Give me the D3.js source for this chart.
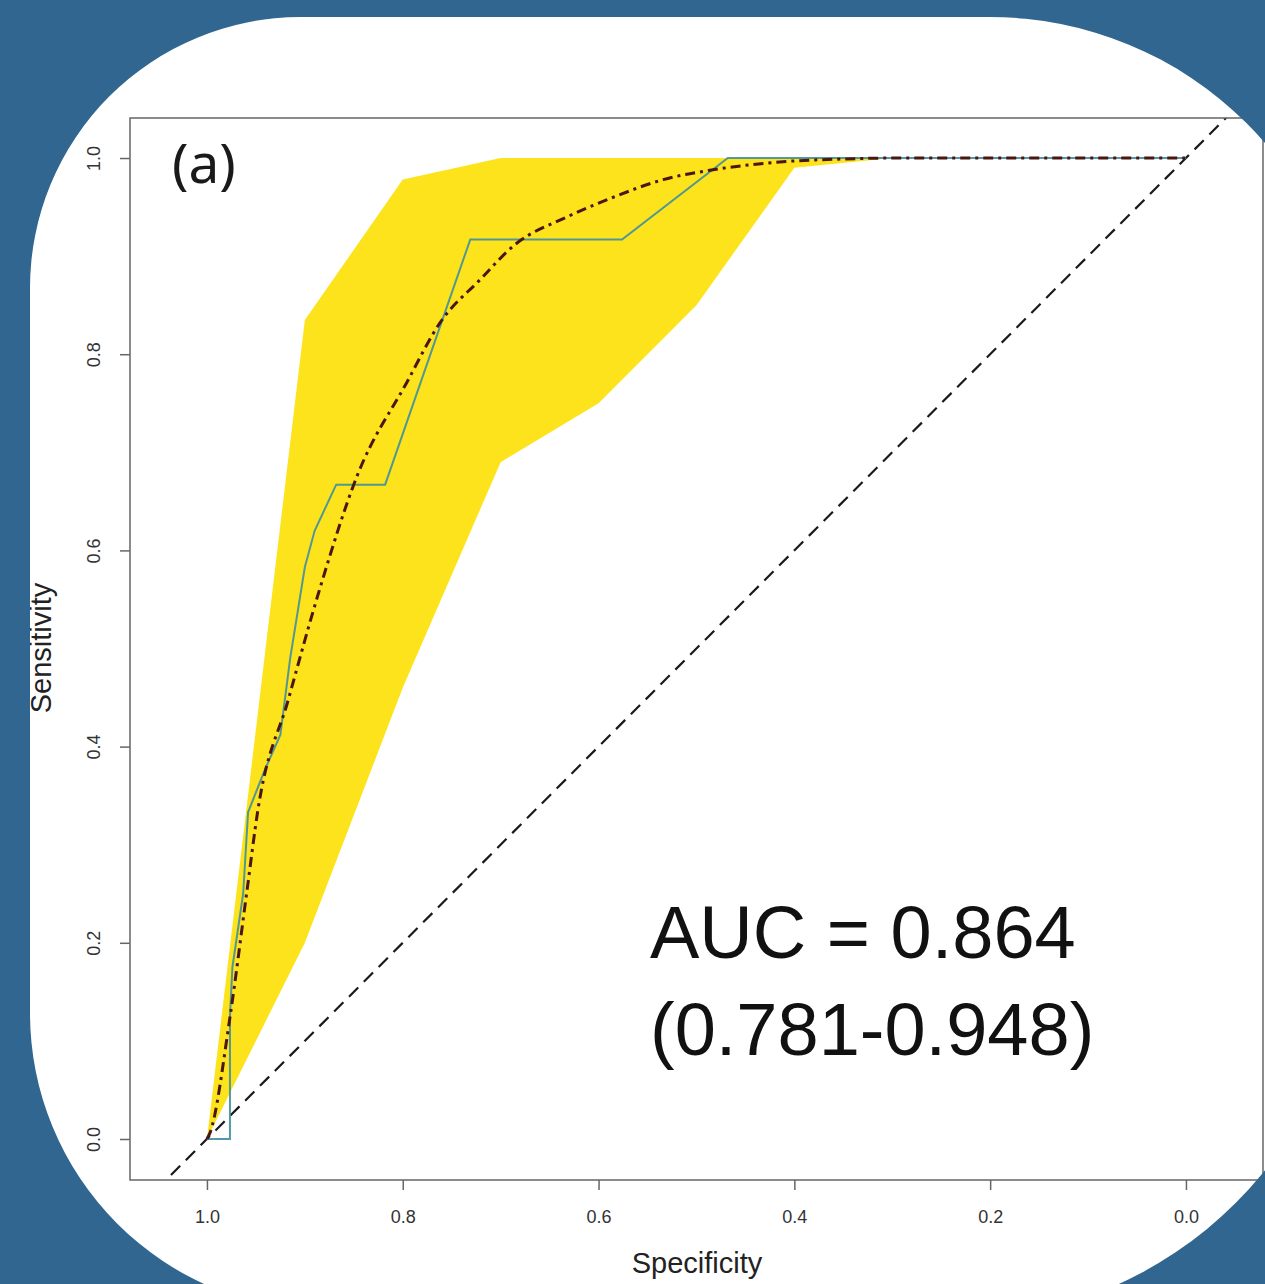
<!DOCTYPE html>
<html><head><meta charset="utf-8">
<script src="https://cdn.jsdelivr.net/npm/d3@7"></script>
<style>html,body{margin:0;padding:0;background:#ffffff;} svg{display:block}</style>
</head><body><svg id="c" width="1265" height="1284"></svg>
<script>
// ---- data ----
const specTicks = [1.0, 0.8, 0.6, 0.4, 0.2, 0.0];
const sensTicks = [0.0, 0.2, 0.4, 0.6, 0.8, 1.0];
const tickFmt = d3.format(".1f");

// confidence band of sensitivity at given specificities
const ciSpec  = [1.0, 0.9, 0.8, 0.7, 0.6, 0.5, 0.4, 0.3, 0.2, 0.1, 0.0];
const ciUpper = [0.0, 0.835, 0.978, 1.0, 1.0, 1.0, 1.0, 1.0, 1.0, 1.0, 1.0];
const ciLower = [0.0, 0.20, 0.46, 0.69, 0.75, 0.85, 0.99, 1.0, 1.0, 1.0, 1.0];

// empirical ROC curve
const rocSpec = [1.0, 0.9765, 0.9765, 0.974, 0.963, 0.958, 0.941, 0.925, 0.915, 0.90, 0.89, 0.868, 0.818, 0.731, 0.576, 0.468, 0.0];
const rocSens = [0.0, 0.0, 0.125, 0.175, 0.25, 0.333, 0.376, 0.412, 0.49, 0.583, 0.62, 0.667, 0.667, 0.917, 0.917, 1.0, 1.0];

// smoothed ROC curve
const smoothSpec = [1.0, 0.997, 0.9765, 0.959, 0.948, 0.917, 0.885, 0.847, 0.796, 0.762, 0.721, 0.685, 0.632, 0.585, 0.534, 0.483, 0.415, 0.35, 0.292, 0.0];
const smoothSens = [0.0, 0.006, 0.124, 0.254, 0.335, 0.4475, 0.56, 0.675, 0.771, 0.832, 0.876, 0.912, 0.940, 0.960, 0.978, 0.988, 0.996, 0.999, 1.0, 1.0];

const panelLabel = "(a)";
const aucLines = ["AUC = 0.864", "(0.781-0.948)"];
const xTitle = "Specificity";
const yTitle = "Sensitivity";

// ---- layout ----
const svg = d3.select("#c");
const L = 130, R = 1263, T = 118, B = 1180;
const x = d3.scaleLinear().domain([1.0786, -0.0787]).range([L, R]);
const y = d3.scaleLinear().domain([-0.0418, 1.0408]).range([B, T]);

svg.append("rect").attr("width", 1265).attr("height", 1284).attr("fill", "#ffffff");
svg.append("clipPath").attr("id", "plotclip").append("rect")
  .attr("x", L).attr("y", T).attr("width", R - L).attr("height", B - T);

const g = svg.append("g").attr("clip-path", "url(#plotclip)");

// CI band
const band = ciSpec.map((s, i) => ({s, lo: ciLower[i], hi: ciUpper[i]}));
g.append("path").datum(band)
  .attr("fill", "#fde31c")
  .attr("d", d3.area().x(d => x(d.s)).y0(d => y(d.lo)).y1(d => y(d.hi)));

// chance diagonal
g.append("path").datum([-0.2, 1.2])
  .attr("fill", "none").attr("stroke", "#1a1a1a").attr("stroke-width", 2.2)
  .attr("stroke-dasharray", "13,8")
  .attr("d", d3.line().x(d => x(d)).y(d => y(1 - d)));

// empirical ROC
g.append("path").datum(rocSpec.map((s, i) => [s, rocSens[i]]))
  .attr("fill", "none").attr("stroke", "#3f8fa0").attr("stroke-opacity", 0.9)
  .attr("stroke-width", 2)
  .attr("d", d3.line().x(d => x(d[0])).y(d => y(d[1])));

// smoothed ROC
g.append("path").datum(smoothSpec.map((s, i) => [s, smoothSens[i]]))
  .attr("fill", "none").attr("stroke", "#4a1610").attr("stroke-width", 3)
  .attr("stroke-dasharray", "10,5,3,5")
  .attr("d", d3.line().curve(d3.curveMonotoneX).x(d => x(d[0])).y(d => y(d[1])));

// box
svg.append("rect").attr("x", L).attr("y", T).attr("width", R - L).attr("height", B - T)
  .attr("fill", "none").attr("stroke", "#666").attr("stroke-width", 1.5);

// axes
const xAxis = d3.axisBottom(x).tickValues(specTicks).tickFormat(tickFmt).tickSize(10).tickPadding(20);
const xg = svg.append("g").attr("transform", `translate(0,${B})`).call(xAxis);
xg.select(".domain").remove();
xg.selectAll(".tick line").attr("stroke", "#666").attr("stroke-width", 1.5);
xg.selectAll(".tick text").attr("font-family", "Liberation Sans, Arial, sans-serif")
  .attr("font-size", 18).attr("fill", "#333");

const yAxis = d3.axisLeft(y).tickValues(sensTicks).tickFormat(tickFmt).tickSize(10).tickPadding(0);
const yg = svg.append("g").attr("transform", `translate(${L},0)`).call(yAxis);
yg.select(".domain").remove();
yg.selectAll(".tick line").attr("stroke", "#666").attr("stroke-width", 1.5);
yg.selectAll(".tick text")
  .attr("font-family", "Liberation Sans, Arial, sans-serif").attr("font-size", 18).attr("fill", "#333")
  .attr("x", null).attr("dy", null)
  .attr("text-anchor", "middle")
  .attr("transform", "translate(-30,0) rotate(-90)");

// titles
svg.append("text").attr("x", 697).attr("y", 1273).attr("text-anchor", "middle")
  .attr("font-family", "Liberation Sans, Arial, sans-serif").attr("font-size", 29).attr("fill", "#222")
  .text(xTitle);
svg.append("text").attr("transform", "translate(51,648) rotate(-90)").attr("text-anchor", "middle")
  .attr("font-family", "Liberation Sans, Arial, sans-serif").attr("font-size", 29).attr("fill", "#222")
  .text(yTitle);

svg.append("text").attr("x", 172).attr("y", 183)
  .attr("font-family", "Noto Sans, Open Sans, sans-serif").attr("font-size", 55).attr("fill", "#1a1a1a")
  .text(panelLabel);

svg.selectAll("text.auc").data(aucLines).enter().append("text").attr("class", "auc")
  .attr("x", 650).attr("y", (d, i) => 958 + i * 97)
  .attr("font-family", "Liberation Sans, Arial, sans-serif").attr("font-size", 74).attr("fill", "#111")
  .text(d => d);

// blue surround with rounded window (decoration)
const inner = "M30,288 A271,271 0 0 1 301,17 L990,17 A363,363 0 0 1 1353,380 L1353,920 " +
  "A400,400 0 0 1 953,1320 L328,1311 A298,298 0 0 1 30,1013 Z";
svg.append("path").attr("fill", "#30668f").attr("fill-rule", "evenodd")
  .attr("d", "M-5,-5H1270V1290H-5Z" + inner);
</script></body></html>
